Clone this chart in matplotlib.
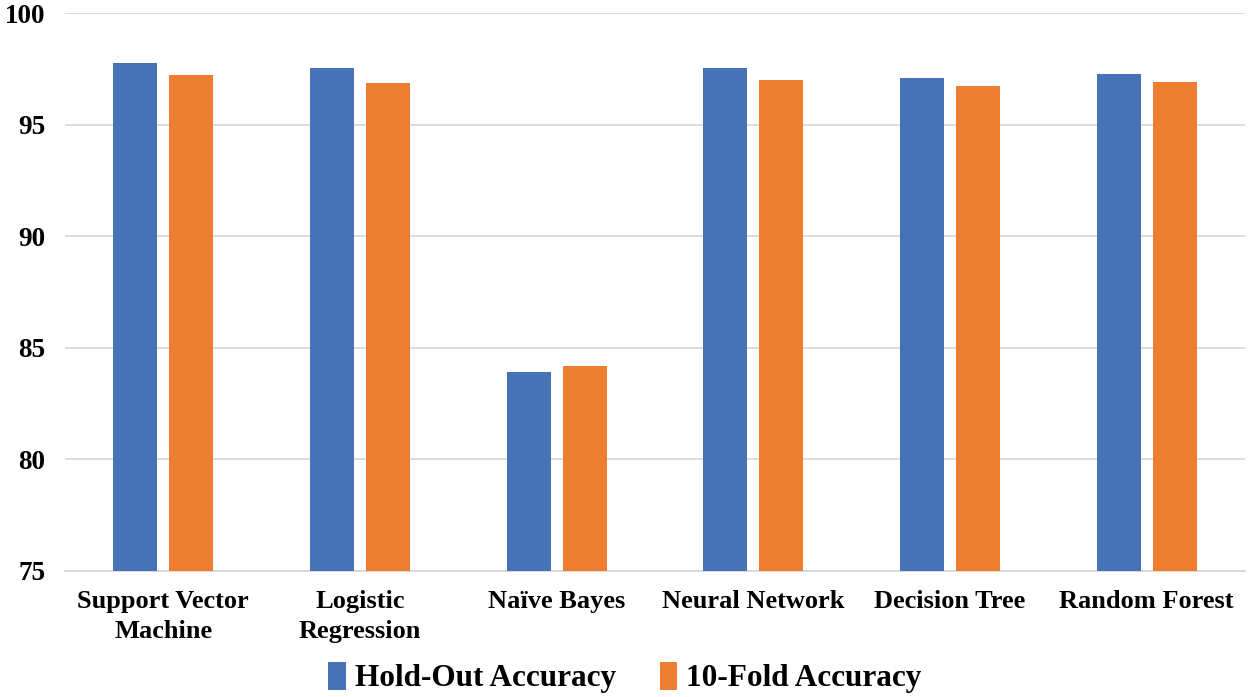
import numpy as np
import matplotlib.pyplot as plt

models = ['Support Vector\nMachine', 'Logistic\nRegression', 'Naïve Bayes',
          'Neural Network', 'Decision Tree', 'Random Forest']
holdout = [97.76, 97.54, 83.92, 97.54, 97.10, 97.27]
tenfold = [97.22, 96.88, 84.17, 97.01, 96.73, 96.90]
yticks = [75, 80, 85, 90, 95, 100]

plt.rcParams['font.family'] = ['Liberation Serif', 'DejaVu Serif']
plt.rcParams['font.weight'] = 'bold'

fig = plt.figure(figsize=(12.5, 6.97), dpi=100)
ax = fig.add_axes([0.052, 0.181, 0.944, 0.8])

x = np.arange(len(models))
w = 0.224
off = 0.142
ax.bar(x - off, holdout, w, color='#4872b8', label='Hold-Out Accuracy', zorder=3)
ax.bar(x + off, tenfold, w, color='#ed7d31', label='10-Fold Accuracy', zorder=3)

ax.set_ylim(75, 100)
ax.set_xlim(-0.5, len(models) - 0.5)
ax.set_yticks(yticks)
ax.set_yticklabels([str(t) for t in yticks], fontsize=19.5, fontweight='bold')
ax.set_xticks(x)
ax.set_xticklabels(models, fontsize=19, fontweight='bold', linespacing=1.4)
ax.tick_params(axis='both', length=0)
ax.tick_params(axis='y', pad=14)
ax.tick_params(axis='x', pad=14)

ax.grid(axis='y', color='#d9d9d9', linewidth=1.3, zorder=0)
for s in ['top', 'right', 'left']:
    ax.spines[s].set_visible(False)
ax.spines['bottom'].set_color('#d9d9d9')
ax.spines['bottom'].set_linewidth(1.3)

fig.legend(loc='center', bbox_to_anchor=(0.5, 0.028), ncol=2, frameon=False,
           prop={'size': 22.5, 'weight': 'bold'}, handlelength=0.55, handleheight=1.0,
           handletextpad=0.3, columnspacing=1.4)

plt.savefig('out.png', dpi=100)
